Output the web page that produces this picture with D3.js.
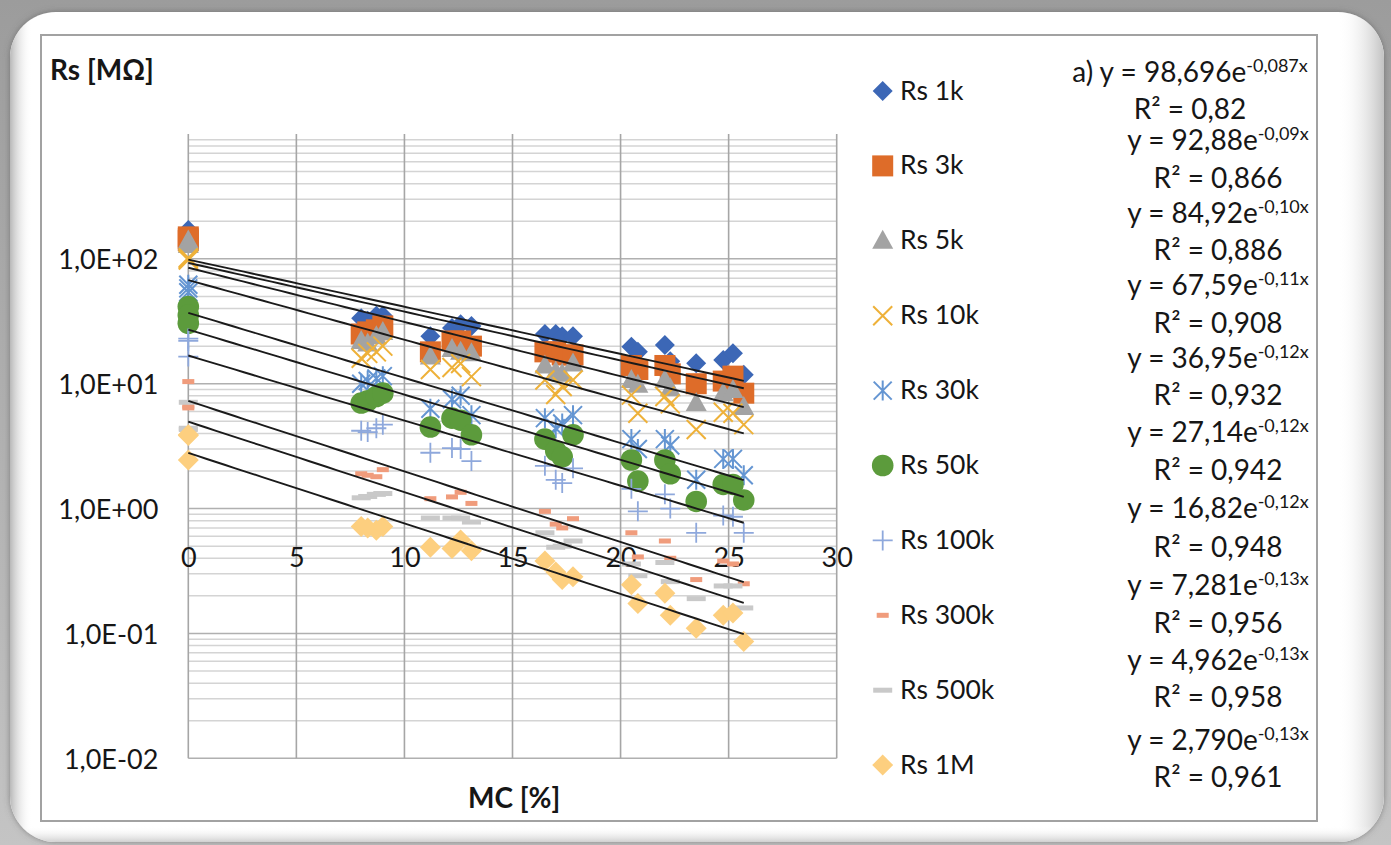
<!DOCTYPE html>
<html>
<head>
<meta charset="utf-8">
<script src="https://cdn.jsdelivr.net/npm/d3@7"></script>
<style>
  html, body { margin: 0; padding: 0; background: #b4b4b4; }
  svg { display: block; }
  text { font-family: Lato, "Open Sans", sans-serif; fill: #161616; }
</style>
</head>
<body>
<svg id="chart" width="1391" height="845"></svg>
<script>
// Moisture content of each sample [%]
const mc = [0, 0, 0, 8.0, 8.3, 8.7, 9.0, 11.2, 12.2, 12.6, 13.1, 16.5, 17.0, 17.3, 17.8,
            20.5, 20.8, 22.05, 22.3, 23.5, 24.75, 25.2, 25.7];

// Series resistance Rs [MΩ] at each measuring frequency
const rs1k   = [170, 155, 140, 33.5, 32, 35, 35, 24, 28, 30, 29, 25, 25, 24, 24,
                19.8, 18, 20.4, 15.1, 14.6, 15.5, 17.5, 11.8];
const rs3k   = [150, 145, 140, 25, 26, 27, 29, 18, 22, 22, 20, 18, 18, 17, 17,
                14, 13, 14, 12, 10, 10.5, 11.5, 8.4];
const rs5k   = [140, 135, 129, 22, 21, 24, 26, 16.5, 19, 18, 17.5, 14, 12.5, 12, 14.5,
                10.7, 9.8, 10.7, 9.2, 7.0, 8.4, 8.9, 6.5];
const rs10k  = [98, 100, 102, 16, 17.5, 18, 20, 13, 13.5, 14.5, 11.4, 10.7, 8.2, 9.5, 10.7,
                8.1, 5.8, 7.9, 6.9, 4.3, 5.9, 5.8, 4.7];
const rs30k  = [62, 58, 54, 10, 10.5, 11, 11.5, 6.3, 7.5, 8, 5.6, 5.3, 4.4, 4.8, 5.6,
                3.6, 3.0, 3.6, 3.2, 1.7, 2.5, 2.5, 1.85];
const rs50k  = [41.5, 35.5, 30.5, 7.0, 7.3, 7.9, 8.4, 4.5, 5.3, 5.1, 3.9, 3.6, 2.9, 2.6, 3.9,
                2.45, 1.66, 2.45, 1.9, 1.14, 1.56, 1.56, 1.17];
const rs100k = [23, 22, 16.5, 4.2, 4.1, 4.4, 4.7, 2.8, 3.05, 3.0, 2.4, 2.2, 1.7, 1.6, 2.1,
                1.44, 0.95, 1.3, 1.0, 0.64, 0.88, 0.86, 0.64];
const rs300k = [10.4, 6.4, 6.6, 1.9, 1.85, 1.8, 2.05, 1.2, 1.24, 1.35, 1.1, 0.95, 0.75, 0.7, 0.83,
                0.64, 0.41, 0.55, 0.40, 0.27, 0.38, 0.36, 0.25];
const rs500k = [7.1, 4.4, 4.3, 1.22, 1.25, 1.3, 1.32, 0.84, 0.84, 0.84, 0.78, 0.64, 0.49, 0.5, 0.55,
                0.36, 0.29, 0.37, 0.26, 0.19, 0.24, 0.24, 0.16];
const rs1M   = [3.9, 3.85, 2.45, 0.72, 0.7, 0.67, 0.72, 0.49, 0.48, 0.56, 0.46, 0.38, 0.31, 0.27, 0.285,
                0.245, 0.174, 0.21, 0.14, 0.11, 0.14, 0.146, 0.086];

const seriesNames = ["Rs 1k", "Rs 3k", "Rs 5k", "Rs 10k", "Rs 30k",
                     "Rs 50k", "Rs 100k", "Rs 300k", "Rs 500k", "Rs 1M"];
const seriesValues = [rs1k, rs3k, rs5k, rs10k, rs30k, rs50k, rs100k, rs300k, rs500k, rs1M];

// Exponential trend lines y = a·e^(b·x), as printed in the labels
const fitA  = ["98,696", "92,88", "84,92", "67,59", "36,95", "27,14", "16,82", "7,281", "4,962", "2,790"];
const fitB  = ["-0,087", "-0,09", "-0,10", "-0,11", "-0,12", "-0,12", "-0,12", "-0,13", "-0,13", "-0,13"];
const fitR2 = ["0,82", "0,866", "0,886", "0,908", "0,932", "0,942", "0,948", "0,956", "0,958", "0,961"];

// Axis ticks
const xTicks = [0, 5, 10, 15, 20, 25, 30];
const yTicks = [100, 10, 1, 0.1, 0.01];

// ---- styling ----
const colors = ["#3c67b6", "#de6c29", "#a3a3a3", "#eeb139", "#6495d2",
                "#5c9b3c", "#8ea8dc", "#f09c7c", "#c9c9c9", "#fdcf7f"];
const shapes = ["diamond", "square", "triangle", "x", "star",
                "circle", "plus", "shortdash", "longdash", "diamondL"];

const num = s => +s.replace(",", ".");

const svg = d3.select("#chart");
const W = 1391, H = 845;

// ---- frame ----
const defs = svg.append("defs");
const bg = defs.append("linearGradient").attr("id", "bg").attr("x1", 0).attr("y1", 0).attr("x2", 0).attr("y2", 1);
bg.append("stop").attr("offset", 0).attr("stop-color", "#9c9c9c");
bg.append("stop").attr("offset", 1).attr("stop-color", "#c4c4c4");
const rg = defs.append("linearGradient").attr("id", "edgeR").attr("x1", 0).attr("y1", 0).attr("x2", 1).attr("y2", 0);
rg.append("stop").attr("offset", 0).attr("stop-color", "#ffffff").attr("stop-opacity", 0);
rg.append("stop").attr("offset", 1).attr("stop-color", "#c2c2c2").attr("stop-opacity", 1);
const lg = defs.append("linearGradient").attr("id", "edgeL").attr("x1", 0).attr("y1", 0).attr("x2", 1).attr("y2", 0);
lg.append("stop").attr("offset", 0).attr("stop-color", "#b8b8b8").attr("stop-opacity", 1);
lg.append("stop").attr("offset", 1).attr("stop-color", "#ffffff").attr("stop-opacity", 0);
const bgr = defs.append("linearGradient").attr("id", "edgeB").attr("x1", 0).attr("y1", 0).attr("x2", 0).attr("y2", 1);
bgr.append("stop").attr("offset", 0).attr("stop-color", "#ffffff").attr("stop-opacity", 0);
bgr.append("stop").attr("offset", 1).attr("stop-color", "#d0d0d0").attr("stop-opacity", 1);
const sh = defs.append("filter").attr("id", "shadow").attr("x", -0.05).attr("y", -0.05).attr("width", 1.1).attr("height", 1.1);
sh.append("feDropShadow").attr("dx", 0).attr("dy", 0).attr("stdDeviation", 3).attr("flood-color", "#555").attr("flood-opacity", 0.6);
defs.append("clipPath").attr("id", "frameClip")
  .append("rect").attr("x", 10).attr("y", 12).attr("width", 1374).attr("height", 830).attr("rx", 46);

svg.append("rect").attr("width", W).attr("height", H).attr("fill", "url(#bg)");
svg.append("rect").attr("x", 10).attr("y", 12).attr("width", 1374).attr("height", 830).attr("rx", 46)
  .attr("fill", "#ffffff").attr("filter", "url(#shadow)");
const edges = svg.append("g").attr("clip-path", "url(#frameClip)");
edges.append("rect").attr("x", 10).attr("y", 12).attr("width", 22).attr("height", 830).attr("fill", "url(#edgeL)");
edges.append("rect").attr("x", 1338).attr("y", 12).attr("width", 46).attr("height", 830).attr("fill", "url(#edgeR)");
edges.append("rect").attr("x", 10).attr("y", 826).attr("width", 1374).attr("height", 16).attr("fill", "url(#edgeB)");

// chart area
svg.append("rect").attr("x", 41).attr("y", 35).attr("width", 1276).attr("height", 786)
  .attr("fill", "#ffffff").attr("stroke", "#a2a2a2").attr("stroke-width", 2);

// ---- scales ----
const x = d3.scaleLinear().domain([0, 30]).range([188.3, 836.7]);
const y = d3.scaleLog().domain([0.01, 1000]).range([758.3, 134]);

// ---- gridlines ----
const grid = svg.append("g");
const minor = [];
[0.01, 0.1, 1, 10, 100].forEach(d => { for (let k = 2; k <= 9; k++) minor.push(k * d); });
grid.selectAll("line.minor").data(minor).join("line")
  .attr("x1", x(0)).attr("x2", x(30)).attr("y1", d => y(d)).attr("y2", d => y(d))
  .attr("stroke", "#d4d4d4").attr("stroke-width", 1.5);
grid.selectAll("line.major").data([0.01, 0.1, 1, 10, 100]).join("line")
  .attr("x1", x(0)).attr("x2", x(30)).attr("y1", d => y(d)).attr("y2", d => y(d))
  .attr("stroke", "#b0b0b0").attr("stroke-width", 1.5);
grid.selectAll("line.vert").data(xTicks).join("line")
  .attr("x1", d => x(d)).attr("x2", d => x(d)).attr("y1", y(1000)).attr("y2", y(0.01))
  .attr("stroke", "#a6a6a6").attr("stroke-width", 1.6);

// ---- axes (labels only, lines hidden) ----
const fmtE = v => {
  const e = Math.round(Math.log10(v));
  return "1,0E" + (e < 0 ? "-" : "+") + String(Math.abs(e)).padStart(2, "0");
};
const yAxis = svg.append("g").attr("transform", `translate(${x(0)},0)`)
  .call(d3.axisLeft(y).tickValues(yTicks).tickFormat(fmtE).tickSize(0).tickPadding(30));
yAxis.select(".domain").remove();
yAxis.selectAll("text").attr("font-size", 27)
  .attr("font-family", "Lato").attr("fill", "#161616").attr("dy", "0.36em");

const xAxis = svg.append("g").attr("transform", `translate(0,${y(0.5)})`)
  .call(d3.axisBottom(x).tickValues(xTicks).tickFormat(d => d).tickSize(0).tickPadding(2));
xAxis.select(".domain").remove();
xAxis.selectAll("text").attr("font-size", 27).attr("font-family", "Lato").attr("fill", "#161616");

// axis titles
svg.append("text").attr("x", 50).attr("y", 80).attr("font-size", 28).attr("font-weight", 700).text("Rs [MΩ]");
svg.append("text").attr("x", 468).attr("y", 808).attr("font-size", 28).attr("font-weight", 700).text("MC [%]");

// ---- markers ----
function drawMarker(g, shape, color) {
  switch (shape) {
    case "diamond":
      g.append("path").attr("d", "M0,-10L10,0L0,10L-10,0Z").attr("fill", color); break;
    case "diamondL":
      g.append("path").attr("d", "M0,-10.5L10.5,0L0,10.5L-10.5,0Z").attr("fill", color); break;
    case "square":
      g.append("rect").attr("x", -10.5).attr("y", -10.5).attr("width", 21).attr("height", 21).attr("fill", color); break;
    case "triangle":
      g.append("path").attr("d", "M0,-11L10.5,8L-10.5,8Z").attr("fill", color); break;
    case "x":
      g.append("path").attr("d", "M-9.5,-9.5L9.5,9.5M-9.5,9.5L9.5,-9.5").attr("stroke", color).attr("stroke-width", 2).attr("fill", "none"); break;
    case "star":
      g.append("path").attr("d", "M-9,-9L9,9M-9,9L9,-9M0,-10L0,10").attr("stroke", color).attr("stroke-width", 2).attr("fill", "none"); break;
    case "circle":
      g.append("circle").attr("r", 10.8).attr("fill", color); break;
    case "plus":
      g.append("path").attr("d", "M-10,0L10,0M0,-10L0,10").attr("stroke", color).attr("stroke-width", 1.8).attr("fill", "none"); break;
    case "shortdash":
      g.append("rect").attr("x", -6).attr("y", -2.5).attr("width", 12).attr("height", 5).attr("fill", color); break;
    case "longdash":
      g.append("rect").attr("x", -9.5).attr("y", -2.5).attr("width", 19).attr("height", 5).attr("fill", color); break;
  }
}

const pts = svg.append("g");
seriesValues.forEach((vals, si) => {
  const gs = pts.append("g");
  vals.forEach((v, i) => {
    const g = gs.append("g").attr("transform", `translate(${x(mc[i])},${y(v)})`);
    drawMarker(g, shapes[si], colors[si]);
  });
});

// ---- trend lines ----
const xMax = d3.max(mc);
const trend = svg.append("g");
fitA.forEach((a, i) => {
  const A = num(a), B = num(fitB[i]);
  const xs = d3.range(0, xMax + 1e-9, xMax / 60);
  trend.append("path")
    .attr("d", d3.line().x(d => x(d)).y(d => y(A * Math.exp(B * d)))(xs))
    .attr("fill", "none").attr("stroke", "#1a1a1a").attr("stroke-width", 1.9);
});

// ---- legend ----
const legend = svg.append("g");
seriesNames.forEach((name, i) => {
  const cy = 91 + i * 74.9;
  const g = legend.append("g").attr("transform", `translate(882.7,${cy})`);
  drawMarker(g, shapes[i], colors[i]);
  legend.append("text").attr("x", 900).attr("y", cy + 8.5).attr("font-size", 26.5).text(name);
});

// ---- trend line equations ----
const eqBase = [81.7, 150, 223.3, 295, 368.3, 441.7, 518.3, 595, 670, 750];
const r2Base = [119.3, 188.3, 260, 332.7, 405, 480, 556.7, 633.3, 706.7, 786.7];
const eqG = svg.append("g");
fitA.forEach((a, i) => {
  const cx = i === 0 ? 1190 : 1218;
  const t = eqG.append("text").attr("x", cx).attr("y", eqBase[i]).attr("text-anchor", "middle").attr("font-size", 28);
  t.append("tspan").text((i === 0 ? "a) " : "") + "y = " + a + "e");
  t.append("tspan").attr("dy", -10).attr("font-size", 18).text(fitB[i] + "x");
  eqG.append("text").attr("x", cx).attr("y", r2Base[i]).attr("text-anchor", "middle").attr("font-size", 28)
    .text("R² = " + fitR2[i]);
});
</script>
</body>
</html>
